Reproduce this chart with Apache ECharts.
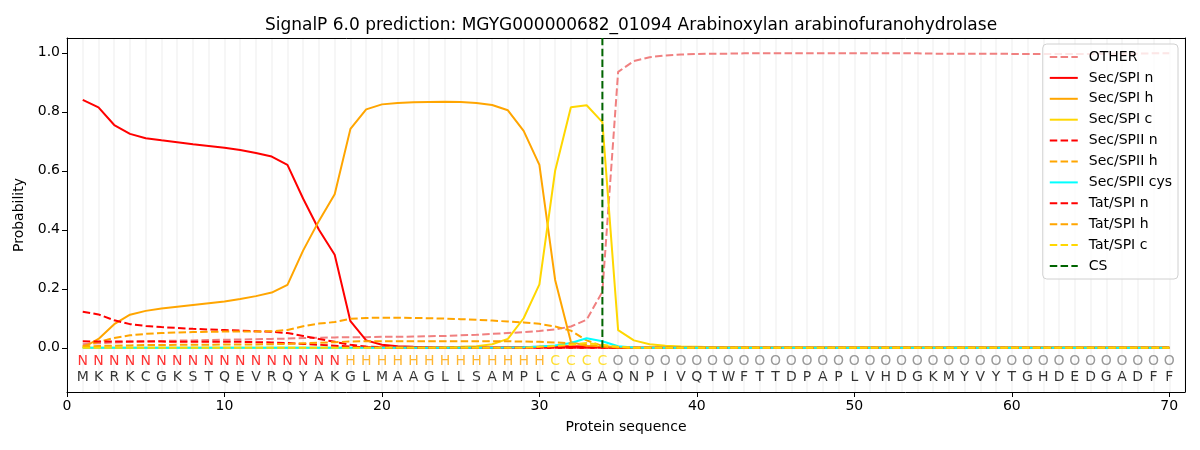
<!DOCTYPE html>
<html>
<head>
<meta charset="utf-8">
<script src="https://cdn.jsdelivr.net/npm/echarts@6/dist/echarts.min.js"></script>
<style>
html, body { margin: 0; padding: 0; background: #fff; }
#main { width: 1200px; height: 450px; }
</style>
</head>
<body>
<div id="main"></div>
<script>
// based on prepared DOM, initialize echarts instance
var myChart = echarts.init(document.getElementById('main'));

// residues and predicted regions, position 1..70
var sequence = 'MKRKCGKSTQEVRQYAKGLMAAGLLSAMPLCAGAQNPIVQTWFTTDPAPLVHDGKMYVYTGHDEDGADFF';
var regions  = 'NNNNNNNNNNNNNNNNNHHHHHHHHHHHHHCCCCOOOOOOOOOOOOOOOOOOOOOOOOOOOOOOOOOOOO';
var cleavageSite = 34;

var xTicks = [0, 10, 20, 30, 40, 50, 60, 70];
var yTicks = [0, 0.2, 0.4, 0.6, 0.8, 1.0];

var other = [0.012, 0.015, 0.018, 0.020, 0.022, 0.023, 0.024, 0.025, 0.026, 0.027,
  0.028, 0.029, 0.030, 0.031, 0.033, 0.034, 0.035, 0.036, 0.036, 0.037,
  0.037, 0.038, 0.039, 0.040, 0.042, 0.044, 0.047, 0.050, 0.053, 0.057,
  0.062, 0.072, 0.095, 0.190, 0.935, 0.972, 0.985, 0.991, 0.994, 0.996,
  0.997, 0.997, 0.998, 0.998, 0.998, 0.998, 0.998, 0.998, 0.998, 0.998,
  0.998, 0.998, 0.998, 0.998, 0.997, 0.997, 0.997, 0.997, 0.997, 0.996,
  0.996, 0.996, 0.996, 0.996, 0.996, 0.997, 0.997, 0.997, 0.998, 0.998];

var secSpiN = [0.840, 0.815, 0.755, 0.725, 0.710, 0.703, 0.697, 0.690, 0.684, 0.678,
  0.670, 0.660, 0.648, 0.620, 0.505, 0.400, 0.315, 0.090, 0.025, 0.010,
  0.005, 0.003, 0.002, 0.001, 0.001, 0.001, 0.001, 0.002, 0.002, 0.003,
  0.004, 0.005, 0.004, 0.002, 0.001, 0, 0, 0, 0, 0,
  0, 0, 0, 0, 0, 0, 0, 0, 0, 0,
  0, 0, 0, 0, 0, 0, 0, 0, 0, 0,
  0, 0, 0, 0, 0, 0, 0, 0, 0, 0];

var secSpiH = [0.000, 0.030, 0.080, 0.112, 0.125, 0.133, 0.139, 0.145, 0.151, 0.157,
  0.165, 0.175, 0.187, 0.213, 0.330, 0.430, 0.520, 0.742, 0.808, 0.825,
  0.830, 0.832, 0.833, 0.834, 0.833, 0.830, 0.823, 0.805, 0.735, 0.620,
  0.230, 0.020, 0.006, 0.002, 0.001, 0, 0, 0, 0, 0,
  0, 0, 0, 0, 0, 0, 0, 0, 0, 0,
  0, 0, 0, 0, 0, 0, 0, 0, 0, 0,
  0, 0, 0, 0, 0, 0, 0, 0, 0, 0];

var secSpiC = [0, 0, 0, 0, 0, 0, 0, 0, 0, 0,
  0, 0, 0, 0, 0, 0, 0, 0, 0, 0,
  0, 0, 0, 0.002, 0.003, 0.005, 0.012, 0.030, 0.100, 0.215,
  0.600, 0.815, 0.822, 0.765, 0.060, 0.025, 0.012, 0.007, 0.004, 0.003,
  0.002, 0.002, 0.001, 0.001, 0.001, 0.001, 0.001, 0.001, 0.001, 0.001,
  0.001, 0.001, 0.001, 0.001, 0.001, 0.001, 0.001, 0.001, 0.001, 0.001,
  0.001, 0.001, 0.001, 0.001, 0.001, 0.001, 0.001, 0.001, 0.001, 0.001];

var secSpiiN = [0.122, 0.113, 0.093, 0.080, 0.074, 0.070, 0.067, 0.064, 0.062, 0.060,
  0.058, 0.056, 0.054, 0.050, 0.040, 0.030, 0.020, 0.010, 0.004, 0.002,
  0.001, 0, 0, 0, 0, 0, 0, 0, 0, 0,
  0, 0, 0, 0, 0, 0, 0, 0, 0, 0,
  0, 0, 0, 0, 0, 0, 0, 0, 0, 0,
  0, 0, 0, 0, 0, 0, 0, 0, 0, 0,
  0, 0, 0, 0, 0, 0, 0, 0, 0, 0];

var secSpiiH = [0.005, 0.020, 0.033, 0.042, 0.047, 0.050, 0.052, 0.053, 0.054, 0.055,
  0.055, 0.055, 0.056, 0.060, 0.073, 0.082, 0.087, 0.098, 0.101, 0.102,
  0.102, 0.101, 0.100, 0.099, 0.097, 0.095, 0.092, 0.089, 0.086, 0.081,
  0.072, 0.058, 0.025, 0.006, 0.002, 0, 0, 0, 0, 0,
  0, 0, 0, 0, 0, 0, 0, 0, 0, 0,
  0, 0, 0, 0, 0, 0, 0, 0, 0, 0,
  0, 0, 0, 0, 0, 0, 0, 0, 0, 0];

var secSpiiCys = [0, 0, 0, 0, 0, 0, 0, 0, 0, 0,
  0, 0, 0, 0, 0, 0, 0, 0, 0, 0,
  0, 0, 0, 0, 0, 0, 0, 0.001, 0.002, 0.004,
  0.008, 0.016, 0.032, 0.022, 0.005, 0.001, 0, 0, 0, 0,
  0, 0, 0, 0, 0, 0, 0, 0, 0, 0,
  0, 0, 0, 0, 0, 0, 0, 0, 0, 0,
  0, 0, 0, 0, 0, 0, 0, 0, 0, 0];

var tatSpiN = [0.022, 0.021, 0.021, 0.021, 0.021, 0.021, 0.020, 0.020, 0.020, 0.020,
  0.020, 0.019, 0.018, 0.016, 0.013, 0.010, 0.007, 0.004, 0.002, 0.001,
  0, 0, 0, 0, 0, 0, 0, 0, 0, 0,
  0, 0, 0, 0, 0, 0, 0, 0, 0, 0,
  0, 0, 0, 0, 0, 0, 0, 0, 0, 0,
  0, 0, 0, 0, 0, 0, 0, 0, 0, 0,
  0, 0, 0, 0, 0, 0, 0, 0, 0, 0];

var tatSpiH = [0.004, 0.006, 0.007, 0.008, 0.009, 0.009, 0.010, 0.010, 0.010, 0.011,
  0.011, 0.011, 0.012, 0.013, 0.015, 0.017, 0.019, 0.021, 0.022, 0.022,
  0.022, 0.022, 0.022, 0.022, 0.022, 0.022, 0.022, 0.022, 0.021, 0.020,
  0.018, 0.015, 0.010, 0.004, 0.001, 0, 0, 0, 0, 0,
  0, 0, 0, 0, 0, 0, 0, 0, 0, 0,
  0, 0, 0, 0, 0, 0, 0, 0, 0, 0,
  0, 0, 0, 0, 0, 0, 0, 0, 0, 0];

var tatSpiC = [0, 0, 0, 0, 0, 0, 0, 0, 0, 0,
  0, 0, 0, 0, 0, 0, 0, 0, 0, 0,
  0, 0, 0, 0, 0, 0, 0, 0, 0, 0.003,
  0.006, 0.010, 0.016, 0.010, 0.003, 0, 0, 0, 0, 0,
  0, 0, 0, 0, 0, 0, 0, 0, 0, 0,
  0, 0, 0, 0, 0, 0, 0, 0, 0, 0,
  0, 0, 0, 0, 0, 0, 0, 0, 0, 0];

var regionColors = { N: '#ff0000', H: '#ffa500', C: '#ffd700', O: '#808080' };
var dash = [7.5, 3.3];

function toPoints(arr) {
  return arr.map(function (v, i) { return [i + 1, v]; });
}

function lineSeries(name, arr, color, dashed) {
  return {
    name: name,
    type: 'line',
    data: toPoints(arr),
    symbol: 'none',
    showSymbol: false,
    color: color,
    lineStyle: { color: color, width: 2, type: dashed ? dash : 'solid' }
  };
}

function letterSeries(text, y, colorOf) {
  var pts = [];
  for (var i = 0; i < text.length; i++) {
    pts.push({
      value: [i + 1, y, text[i]],
      label: { color: colorOf(text[i]) }
    });
  }
  return {
    type: 'scatter',
    data: pts,
    symbolSize: 1,
    itemStyle: { color: 'rgba(0,0,0,0)' },
    silent: true,
    label: {
      show: true,
      position: 'inside',
      fontSize: 14,
      fontFamily: 'DejaVu Sans',
      formatter: function (p) { return p.data.value[2]; }
    }
  };
}

var legendNames = ['OTHER', 'Sec/SPI n', 'Sec/SPI h', 'Sec/SPI c', 'Sec/SPII n', 'Sec/SPII h',
  'Sec/SPII cys', 'Tat/SPI n', 'Tat/SPI h', 'Tat/SPI c', 'CS'];

option = {
  animation: false,
  textStyle: { fontFamily: 'DejaVu Sans' },
  title: {
    text: 'SignalP 6.0 prediction: MGYG000000682_01094 Arabinoxylan arabinofuranohydrolase',
    left: 626,
    textAlign: 'center',
    top: 12,
    textStyle: { fontSize: 17, fontWeight: 'normal', color: '#000', fontFamily: 'DejaVu Sans' }
  },
  grid: {
    left: 67, right: 15, top: 38, bottom: 58
  },
  legend: {
    data: legendNames,
    orient: 'vertical',
    right: 22,
    top: 44,
    itemWidth: 28,
    itemHeight: 14,
    itemGap: 6.9,
    padding: [6, 6, 6, 6],
    backgroundColor: 'rgba(255,255,255,0.8)',
    borderColor: '#d0d0d0',
    borderWidth: 1,
    borderRadius: 4,
    itemStyle: { opacity: 0 },
    textStyle: { fontSize: 14, color: '#000', padding: [0, 0, 0, 6] }
  },
  xAxis: [{
    type: 'value',
    min: 0,
    max: 71,
    interval: 10,
    name: 'Protein sequence',
    nameLocation: 'middle',
    nameGap: 28,
    nameTextStyle: { fontSize: 14, color: '#000' },
    axisLine: { show: true, onZero: false, lineStyle: { color: '#000' } },
    axisTick: { customValues: xTicks, length: 5, lineStyle: { color: '#000' } },
    axisLabel: { customValues: xTicks, fontSize: 14, color: '#000', margin: 7 },
    splitLine: { show: false },
    z: 3
  }, {
    // faint per-residue guide lines
    type: 'value',
    min: 0,
    max: 71,
    interval: 1,
    position: 'bottom',
    axisLine: { show: false },
    axisTick: { show: false },
    axisLabel: { show: false },
    splitLine: { show: true, lineStyle: { color: '#f3f3f3', width: 1.5 } }
  }, {
    // top frame edge
    type: 'value',
    min: 0,
    max: 71,
    position: 'top',
    axisLine: { show: true, onZero: false, lineStyle: { color: '#000' } },
    axisTick: { show: false },
    axisLabel: { show: false },
    splitLine: { show: false },
    z: 3
  }],
  yAxis: [{
    type: 'value',
    min: -0.15,
    max: 1.05,
    name: 'Probability',
    nameLocation: 'middle',
    nameGap: 40,
    nameTextStyle: { fontSize: 14, color: '#000' },
    axisLine: { show: true, onZero: false, lineStyle: { color: '#000' } },
    axisTick: { show: true, customValues: yTicks, length: 5, lineStyle: { color: '#000' } },
    axisLabel: {
      customValues: yTicks, fontSize: 14, color: '#000', margin: 7,
      formatter: function (v) { return v.toFixed(1); }
    },
    splitLine: { show: false },
    z: 3
  }, {
    // right frame edge
    type: 'value',
    min: -0.15,
    max: 1.05,
    position: 'right',
    axisLine: { show: true, onZero: false, lineStyle: { color: '#000' } },
    axisTick: { show: false },
    axisLabel: { show: false },
    splitLine: { show: false },
    z: 3
  }],
  series: [
    lineSeries('OTHER', other, '#f08080', true),
    lineSeries('Sec/SPI n', secSpiN, '#ff0000', false),
    lineSeries('Sec/SPI h', secSpiH, '#ffa500', false),
    lineSeries('Sec/SPI c', secSpiC, '#ffd700', false),
    lineSeries('Sec/SPII n', secSpiiN, '#ff0000', true),
    lineSeries('Sec/SPII h', secSpiiH, '#ffa500', true),
    lineSeries('Sec/SPII cys', secSpiiCys, '#00ffff', false),
    lineSeries('Tat/SPI n', tatSpiN, '#ff0000', true),
    lineSeries('Tat/SPI h', tatSpiH, '#ffa500', true),
    lineSeries('Tat/SPI c', tatSpiC, '#ffd700', true),
    {
      name: 'CS',
      type: 'line',
      data: [[cleavageSite, 0], [cleavageSite, 1.05]],
      symbol: 'none',
      color: '#006400',
      lineStyle: { color: '#006400', width: 2, type: dash }
    },
    letterSeries(regions, -0.047, function (c) { return regionColors[c]; }),
    letterSeries(sequence, -0.1, function () { return '#000'; })
  ]
};

// use configuration item and data specified to show chart
myChart.setOption(option);
</script>
</body>
</html>
